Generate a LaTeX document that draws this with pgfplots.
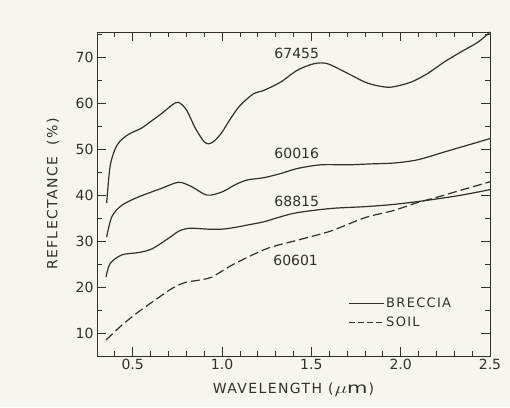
\documentclass[border=0pt]{standalone}
\usepackage{fontspec}
\setmainfont{DejaVu Sans}
\usepackage{graphicx}
\usepackage{pgfplots}
\pgfplotsset{compat=1.18}
\usetikzlibrary{backgrounds}
\definecolor{paper}{HTML}{F6F5F0}
\definecolor{ink}{HTML}{303030}
\newfontfamily\lbl[LetterSpace=10]{DejaVu Sans}

\begin{document}
\begin{tikzpicture}[font=\fontsize{13}{15}\selectfont,
  curve/.style={ink, line width=1.2pt, smooth, no marks}]
\begin{axis}[name=ax, scale only axis, width=393pt, height=324pt,
  xmin=0.3, xmax=2.5, ymin=5, ymax=75.5,
  xtick={0.5,1.0,1.5,2.0,2.5},
  minor xtick={0.4,0.6,0.7,0.8,0.9,1.1,1.2,1.3,1.4,1.6,1.7,1.8,1.9,2.1,2.2,2.3,2.4},
  ytick={10,20,30,40,50,60,70},
  minor ytick={15,25,35,45,55,65,75},
  tick align=inside, major tick length=9pt, minor tick length=5pt,
  axis line style={ink, line width=0.9pt},
  every tick/.style={ink, line width=0.8pt},
  /pgf/number format/assume math mode=true,
  xticklabel style={/pgf/number format/fixed, /pgf/number format/precision=1,
    /pgf/number format/fixed zerofill},
  tick label style={text=ink, font=\fontsize{14}{16}\selectfont},
  xlabel={\lbl WAVELENGTH\ (\kern1pt\scalebox{1.5}[1.1]{$\mu$m}\kern1pt)},
  ylabel={\lbl REFLECTANCE\ \ (\%)},
  xlabel style={at={(axis description cs:0.5,-0.105)}, anchor=center, text=ink,
    font=\fontsize{14}{16}\selectfont},
  ylabel style={at={(axis description cs:-0.112,0.5)}, anchor=center, text=ink,
    font=\fontsize{14}{16}\selectfont},
  legend image code/.code={\draw[#1] (0pt,0pt) -- (35pt,0pt);},
  legend cell align=left,
  legend style={draw=none, fill=none, at={(axis cs:1.704,18.1)}, anchor=north west,
    inner sep=0pt, row sep=4pt, text=ink, font=\lbl\fontsize{13}{15}\selectfont},
]
\addlegendimage{curve}
\addlegendentry{BRECCIA}
\addlegendimage{curve, dash pattern=on 6pt off 3pt}
\addlegendentry{SOIL}
% 67455 breccia
\addplot[curve] coordinates {
  (0.354,38.3) (0.373,46.2) (0.40,49.9) (0.43,51.8) (0.48,53.3) (0.55,54.6)
  (0.60,56.0) (0.663,57.8) (0.72,59.6) (0.755,60.2) (0.80,58.6) (0.85,54.6)
  (0.90,51.6) (0.93,51.2) (0.96,51.9) (1.0,53.7) (1.05,56.8) (1.103,59.6)
  (1.178,62.1) (1.234,62.8) (1.328,64.6) (1.422,67.2) (1.515,68.6) (1.59,68.6)
  (1.703,66.5) (1.80,64.6) (1.871,63.8) (1.946,63.5) (2.058,64.6) (2.152,66.5)
  (2.245,69.0) (2.339,71.2) (2.433,73.3) (2.5,75.5)
};
% 60601 soil
\addplot[curve, dash pattern=on 9pt off 4pt] coordinates {
  (0.351,8.5) (0.439,11.7) (0.532,14.6) (0.626,17.2) (0.72,19.7) (0.794,21.0)
  (0.869,21.5) (0.944,22.2) (1.066,25.0) (1.253,28.4) (1.422,30.2) (1.609,32.2)
  (1.80,35.1) (1.965,36.7) (2.078,38.2) (2.208,39.6) (2.339,41.1) (2.5,42.9)
};
% 60016 breccia
\addplot[curve] coordinates {
  (0.354,30.9) (0.383,35.3) (0.439,37.8) (0.532,39.6) (0.663,41.5) (0.757,42.8)
  (0.832,41.8) (0.916,40.0) (1.0,40.7) (1.075,42.3) (1.141,43.3) (1.234,43.8)
  (1.328,44.7) (1.422,45.8) (1.553,46.6) (1.703,46.6) (1.834,46.8) (1.965,47.0)
  (2.096,47.7) (2.245,49.4) (2.377,50.9) (2.5,52.3)
};
% 68815 breccia
\addplot[curve] coordinates {
  (0.351,22.2) (0.373,25.1) (0.439,27.0) (0.532,27.5) (0.607,28.3) (0.70,30.6)
  (0.76,32.2) (0.82,32.8) (0.92,32.6) (1.0,32.6) (1.075,33.0) (1.141,33.5)
  (1.234,34.2) (1.328,35.3) (1.422,36.2) (1.609,37.1) (1.8,37.5) (1.965,38.0)
  (2.152,38.9) (2.339,40.0) (2.5,41.2)
};
\node[text=ink, font=\fontsize{14}{16}\selectfont] at (axis cs:1.418,70.9) {67455};
\node[text=ink, font=\fontsize{14}{16}\selectfont] at (axis cs:1.418,49.1) {60016};
\node[text=ink, font=\fontsize{14}{16}\selectfont] at (axis cs:1.418,38.7) {68815};
\node[text=ink, font=\fontsize{14}{16}\selectfont] at (axis cs:1.412,25.9) {60601};
\end{axis}
\begin{scope}[on background layer]
  \fill[paper] ([shift={(-97pt,-51pt)}]ax.south west) rectangle ([shift={(20pt,32pt)}]ax.north east);
\end{scope}
\end{tikzpicture}
\end{document}
